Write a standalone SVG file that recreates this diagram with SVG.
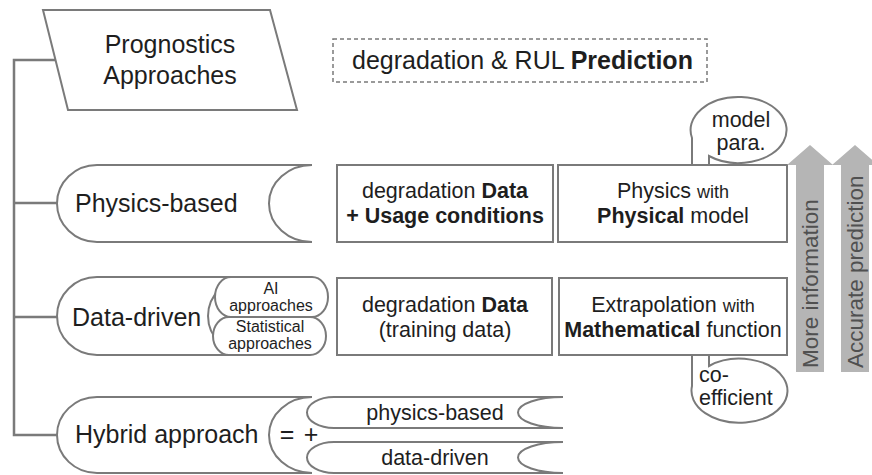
<svg xmlns="http://www.w3.org/2000/svg" width="872" height="475" viewBox="0 0 872 475">
<style>
.s{fill:#fff;stroke:#7a7a7a;stroke-width:2}
.c{fill:none;stroke:#7a7a7a;stroke-width:2.5}
text{font-family:"Liberation Sans",Arial,sans-serif;fill:#1e1e1e}
.L{font-size:25px}
.M{font-size:21.5px}
.P{font-size:16px}
.b{font-weight:bold}
.m{text-anchor:middle}
.ar{fill:#b5b5b5}
.at{font-size:22.5px;fill:#505050}
</style>
<g id="connectors">
<polyline class="c" points="55,60 14,60 14,435 57,435"/>
<line class="c" x1="14" y1="203" x2="57" y2="203"/>
<line class="c" x1="14" y1="317" x2="57" y2="317"/>
</g>
<g id="prognostics">
<polygon class="s" points="43,10 270,10 297,110 68,110"/>
<text class="L m" x="170" y="53">Prognostics</text>
<text class="L m" x="170" y="84">Approaches</text>
</g>
<g id="prediction">
<rect x="333" y="39" width="374" height="43" fill="#fff" stroke="#7a7a7a" stroke-width="1.5" stroke-dasharray="4 3"/>
<text class="L" x="352" y="69">degradation &amp; RUL <tspan class="b">Prediction</tspan></text>
</g>
<g id="physics-based">
<path class="s" d="M97,165 L312,165 A43 38.5 0 0 0 312,242 L97,242 A40 38.5 0 0 1 97,165 Z"/>
<text class="L" x="75" y="212">Physics-based</text>
</g>
<g id="data-driven">
<path class="s" d="M97,277 L250,277 A42 39 0 0 0 250,355 L97,355 A40 39 0 0 1 97,277 Z"/>
<text class="L" x="72" y="326">Data-driven</text>
</g>
<g id="ai">
<rect class="s" x="215" y="277" width="113" height="40" rx="16" ry="20"/>
<text class="P m" x="271" y="294">AI</text>
<text class="P m" x="271" y="311">approaches</text>
</g>
<g id="statistical">
<rect class="s" x="213" y="317" width="113" height="38" rx="16" ry="19"/>
<text class="P m" x="270" y="332">Statistical</text>
<text class="P m" x="270" y="349">approaches</text>
</g>
<g id="hybrid">
<path class="s" d="M97,397 L312,397 A43 38 0 0 0 312,473 L97,473 A40 38 0 0 1 97,397 Z"/>
<text class="L" x="75" y="443">Hybrid approach</text>
<text class="L m" x="287" y="443">=</text>
<text class="L m" x="311" y="443">+</text>
</g>
<g id="hybrid-physics">
<path class="s" d="M334,397 L563,397 A45 15.5 0 0 0 563,428 L334,428 A27 15.5 0 0 1 334,397 Z"/>
<text class="M m" x="435" y="420">physics-based</text>
</g>
<g id="hybrid-data">
<path class="s" d="M334,442 L563,442 A45 15.5 0 0 0 563,473 L334,473 A27 15.5 0 0 1 334,442 Z"/>
<text class="M m" x="435" y="465">data-driven</text>
</g>
<g id="model-para">
<path class="s" d="M692,165 L692,138 A48 33 0 1 1 709,156 L709,165"/>
<text class="M m" x="741" y="127">model</text>
<text class="M m" x="741" y="150">para.</text>
</g>
<g id="coefficient">
<path class="s" d="M692,355 L692,386 A48 32 0 1 0 709,366 L709,355"/>
<text class="M" font-size="20" x="699" y="382">co-</text>
<text class="M" font-size="20" x="699" y="405">efficient</text>
</g>
<g id="data-usage">
<rect class="s" x="337" y="165" width="216" height="77"/>
<text class="M m" x="445" y="198">degradation <tspan class="b">Data</tspan></text>
<text class="M m b" x="445" y="223">+ Usage conditions</text>
</g>
<g id="physical-model">
<rect class="s" x="558" y="165" width="229" height="77"/>
<text class="M m" x="673" y="198">Physics <tspan font-size="18">with</tspan></text>
<text class="M m" x="673" y="223"><tspan class="b">Physical</tspan> model</text>
</g>
<g id="training-data">
<rect class="s" x="337" y="278" width="215" height="77"/>
<text class="M m" x="445" y="312">degradation <tspan class="b">Data</tspan></text>
<text class="M m" x="445" y="337">(training data)</text>
</g>
<g id="math-function">
<rect class="s" x="559" y="278" width="228" height="77"/>
<text class="M m" x="673" y="312">Extrapolation <tspan font-size="18">with</tspan></text>
<text class="M m" x="673" y="337"><tspan class="b">Mathematical</tspan> function</text>
</g>
<g id="more-information">
<polygon class="ar" points="810,145 833,165 824,165 824,372 796,372 796,165 787,165"/>
<text class="at" transform="translate(818,368) rotate(-90)">More information</text>
</g>
<g id="accurate-prediction">
<polygon class="ar" points="855,145 878,165 869,165 869,372 841,372 841,165 832,165"/>
<text class="at" transform="translate(863,368) rotate(-90)">Accurate prediction</text>
</g>
</svg>
